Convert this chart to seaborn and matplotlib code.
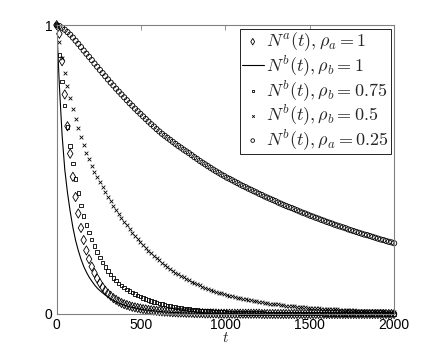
import matplotlib
matplotlib.use("Agg")
import matplotlib.pyplot as plt
import seaborn as sns

# sample times (every 16 time units)
t = [
    0, 16, 32, 48, 64, 80, 96, 112,
    128, 144, 160, 176, 192, 208, 224, 240,
    256, 272, 288, 304, 320, 336, 352, 368,
    384, 400, 416, 432, 448, 464, 480, 496,
    512, 528, 544, 560, 576, 592, 608, 624,
    640, 656, 672, 688, 704, 720, 736, 752,
    768, 784, 800, 816, 832, 848, 864, 880,
    896, 912, 928, 944, 960, 976, 992, 1008,
    1024, 1040, 1056, 1072, 1088, 1104, 1120, 1136,
    1152, 1168, 1184, 1200, 1216, 1232, 1248, 1264,
    1280, 1296, 1312, 1328, 1344, 1360, 1376, 1392,
    1408, 1424, 1440, 1456, 1472, 1488, 1504, 1520,
    1536, 1552, 1568, 1584, 1600, 1616, 1632, 1648,
    1664, 1680, 1696, 1712, 1728, 1744, 1760, 1776,
    1792, 1808, 1824, 1840, 1856, 1872, 1888, 1904,
    1920, 1936, 1952, 1968, 1984, 2000,
]

# N^a(t), rho_a = 1  (diamonds)
na_rho1 = [
    1.000, 0.970, 0.875, 0.760, 0.650, 0.555, 0.475, 0.405,
    0.348, 0.298, 0.256, 0.220, 0.190, 0.164, 0.142, 0.123,
    0.107, 0.093, 0.081, 0.071, 0.063, 0.055, 0.049, 0.043,
    0.038, 0.034, 0.031, 0.028, 0.025, 0.023, 0.021, 0.019,
    0.017, 0.016, 0.014, 0.013, 0.012, 0.011, 0.010, 0.009,
    0.008, 0.008, 0.007, 0.006, 0.006, 0.005, 0.005, 0.005,
    0.004, 0.004, 0.004, 0.003, 0.003, 0.003, 0.003, 0.002,
    0.002, 0.002, 0.002, 0.002, 0.001, 0.001, 0.001, 0.001,
    0.001, 0.001, 0.001, 0.001, 0.001, 0.001, 0.001, 0.001,
    0.001, 0.001, 0.001, 0.001, 0.000, 0.000, 0.000, 0.000,
    0.000, 0.000, 0.000, 0.000, 0.000, 0.000, 0.000, 0.000,
    0.000, 0.000, 0.000, 0.000, 0.000, 0.000, 0.000, 0.000,
    0.000, 0.000, 0.000, 0.000, 0.000, 0.000, 0.000, 0.000,
    0.000, 0.000, 0.000, 0.000, 0.000, 0.000, 0.000, 0.000,
    0.000, 0.000, 0.000, 0.000, 0.000, 0.000, 0.000, 0.000,
    0.000, 0.000, 0.000, 0.000, 0.000, 0.000,
]

# N^b(t), rho_b = 1  (solid line)
nb_rho1 = [
    1.000, 0.790, 0.620, 0.500, 0.420, 0.355, 0.300, 0.255,
    0.220, 0.190, 0.165, 0.145, 0.128, 0.114, 0.101, 0.090,
    0.081, 0.073, 0.066, 0.059, 0.052, 0.047, 0.042, 0.038,
    0.034, 0.031, 0.028, 0.025, 0.023, 0.021, 0.019, 0.017,
    0.015, 0.014, 0.013, 0.012, 0.011, 0.010, 0.009, 0.008,
    0.007, 0.007, 0.006, 0.005, 0.005, 0.005, 0.004, 0.004,
    0.004, 0.003, 0.003, 0.003, 0.003, 0.002, 0.002, 0.002,
    0.002, 0.002, 0.002, 0.001, 0.001, 0.001, 0.001, 0.001,
    0.001, 0.001, 0.001, 0.001, 0.000, 0.000, 0.000, 0.000,
    0.000, 0.000, 0.000, 0.000, 0.000, 0.000, 0.000, 0.000,
    0.000, 0.000, 0.000, 0.000, 0.000, 0.000, 0.000, 0.000,
    0.000, 0.000, 0.000, 0.000, 0.000, 0.000, 0.000, 0.000,
    0.000, 0.000, 0.000, 0.000, 0.000, 0.000, 0.000, 0.000,
    0.000, 0.000, 0.000, 0.000, 0.000, 0.000, 0.000, 0.000,
    0.000, 0.000, 0.000, 0.000, 0.000, 0.000, 0.000, 0.000,
    0.000, 0.000, 0.000, 0.000, 0.000, 0.000,
]

# N^b(t), rho_b = 0.75  (squares)
nb_rho075 = [
    1.000, 0.897, 0.805, 0.722, 0.647, 0.581, 0.521, 0.467,
    0.419, 0.376, 0.339, 0.308, 0.283, 0.258, 0.236, 0.215,
    0.196, 0.179, 0.163, 0.149, 0.136, 0.124, 0.115, 0.106,
    0.098, 0.091, 0.085, 0.079, 0.074, 0.069, 0.064, 0.060,
    0.056, 0.052, 0.049, 0.045, 0.042, 0.039, 0.037, 0.034,
    0.032, 0.030, 0.028, 0.026, 0.024, 0.023, 0.021, 0.020,
    0.018, 0.017, 0.016, 0.015, 0.014, 0.013, 0.012, 0.011,
    0.010, 0.010, 0.009, 0.008, 0.008, 0.007, 0.007, 0.006,
    0.006, 0.006, 0.005, 0.005, 0.004, 0.004, 0.004, 0.004,
    0.003, 0.003, 0.003, 0.003, 0.003, 0.002, 0.002, 0.002,
    0.002, 0.002, 0.002, 0.002, 0.001, 0.001, 0.001, 0.001,
    0.001, 0.001, 0.001, 0.001, 0.001, 0.001, 0.001, 0.001,
    0.001, 0.001, 0.001, 0.000, 0.000, 0.000, 0.000, 0.000,
    0.000, 0.000, 0.000, 0.000, 0.000, 0.000, 0.000, 0.000,
    0.000, 0.000, 0.000, 0.000, 0.000, 0.000, 0.000, 0.000,
    0.000, 0.000, 0.000, 0.000, 0.000, 0.000,
]

# N^b(t), rho_b = 0.5  (crosses)
nb_rho05 = [
    1.000, 0.940, 0.885, 0.835, 0.790, 0.748, 0.710, 0.675,
    0.643, 0.613, 0.585, 0.559, 0.535, 0.512, 0.493, 0.474,
    0.456, 0.439, 0.422, 0.406, 0.390, 0.375, 0.360, 0.346,
    0.333, 0.320, 0.307, 0.294, 0.281, 0.270, 0.258, 0.248,
    0.238, 0.228, 0.219, 0.211, 0.202, 0.194, 0.186, 0.178,
    0.171, 0.163, 0.156, 0.150, 0.143, 0.138, 0.132, 0.127,
    0.122, 0.117, 0.112, 0.107, 0.103, 0.099, 0.095, 0.091,
    0.087, 0.084, 0.080, 0.077, 0.074, 0.071, 0.068, 0.066,
    0.064, 0.061, 0.059, 0.057, 0.055, 0.053, 0.051, 0.049,
    0.047, 0.045, 0.044, 0.042, 0.041, 0.039, 0.038, 0.036,
    0.035, 0.034, 0.033, 0.031, 0.030, 0.029, 0.028, 0.027,
    0.026, 0.025, 0.025, 0.024, 0.023, 0.022, 0.022, 0.021,
    0.020, 0.020, 0.019, 0.018, 0.018, 0.017, 0.017, 0.016,
    0.016, 0.015, 0.015, 0.014, 0.014, 0.013, 0.013, 0.012,
    0.012, 0.012, 0.011, 0.011, 0.010, 0.010, 0.010, 0.009,
    0.009, 0.009, 0.008, 0.008, 0.008, 0.008,
]

# N^b(t), rho = 0.25  (circles)
nb_rho025 = [
    1.000, 0.997, 0.991, 0.984, 0.976, 0.967, 0.957, 0.946,
    0.935, 0.924, 0.912, 0.901, 0.890, 0.879, 0.867, 0.856,
    0.845, 0.834, 0.823, 0.812, 0.801, 0.791, 0.780, 0.770,
    0.760, 0.750, 0.740, 0.730, 0.721, 0.711, 0.702, 0.693,
    0.684, 0.675, 0.666, 0.657, 0.649, 0.640, 0.632, 0.624,
    0.617, 0.610, 0.603, 0.596, 0.589, 0.582, 0.576, 0.569,
    0.563, 0.557, 0.550, 0.543, 0.537, 0.530, 0.524, 0.518,
    0.512, 0.506, 0.500, 0.494, 0.489, 0.483, 0.478, 0.472,
    0.468, 0.463, 0.458, 0.453, 0.448, 0.443, 0.439, 0.434,
    0.430, 0.425, 0.421, 0.416, 0.412, 0.407, 0.403, 0.399,
    0.395, 0.391, 0.386, 0.382, 0.378, 0.374, 0.370, 0.367,
    0.363, 0.359, 0.355, 0.351, 0.348, 0.344, 0.340, 0.337,
    0.333, 0.330, 0.326, 0.323, 0.319, 0.316, 0.313, 0.309,
    0.306, 0.303, 0.300, 0.297, 0.293, 0.290, 0.287, 0.284,
    0.281, 0.278, 0.275, 0.273, 0.270, 0.267, 0.264, 0.261,
    0.258, 0.256, 0.253, 0.250, 0.248, 0.245,
]

labels = [
    r"$N^a(t), \rho_a = 1$",
    r"$N^b(t), \rho_b = 1$",
    r"$N^b(t), \rho_b = 0.75$",
    r"$N^b(t), \rho_b = 0.5$",
    r"$N^b(t), \rho_a = 0.25$",
]

sns.set_style("white")
plt.rcParams["font.family"] = ["Liberation Sans", "DejaVu Sans"]
plt.rcParams["mathtext.fontset"] = "cm"

fig = plt.figure(figsize=(4.36, 3.54), dpi=100)
ax = fig.add_axes([0.130, 0.113, 0.774, 0.816])

hollow = dict(color="k", facecolor="none", edgecolor="k", linewidth=0.6, clip_on=False)
sns.scatterplot(x=t, y=na_rho1, marker="d", s=22, label=labels[0], ax=ax, **hollow)
sns.lineplot(x=t, y=nb_rho1, color="k", linewidth=0.8, estimator=None,
             label=labels[1], ax=ax)
sns.scatterplot(x=t, y=nb_rho075, marker="s", s=6, label=labels[2], ax=ax, **hollow)
sns.scatterplot(x=t, y=nb_rho05, marker="x", s=7, color="k", linewidth=0.6,
                clip_on=False, label=labels[3], ax=ax)
sns.scatterplot(x=t, y=nb_rho025, marker="o", s=14, label=labels[4], ax=ax, **hollow)

ax.set_xlim(0, 2000)
ax.set_ylim(0, 1)
ax.set_xticks([0, 500, 1000, 1500, 2000])
ax.set_yticks([0, 1])
ax.tick_params(direction="in", length=3.5, width=0.6, color="#808080",
               labelsize=10, labelcolor="k", pad=3, top=True, right=True)
for sp in ax.spines.values():
    sp.set_color("#808080")
    sp.set_linewidth(0.8)
ax.set_xlabel("$t$", fontsize=11, labelpad=-1)
ax.set_ylabel("")

leg = ax.legend(loc="upper right", fontsize=13, frameon=True, fancybox=False,
                edgecolor="k", framealpha=1, borderpad=0.1, labelspacing=0.0,
                handlelength=1.2, handletextpad=0.15, borderaxespad=0.2,
                markerscale=0.7)
leg.get_frame().set_linewidth(0.6)

fig.savefig("out.png", dpi=100)
